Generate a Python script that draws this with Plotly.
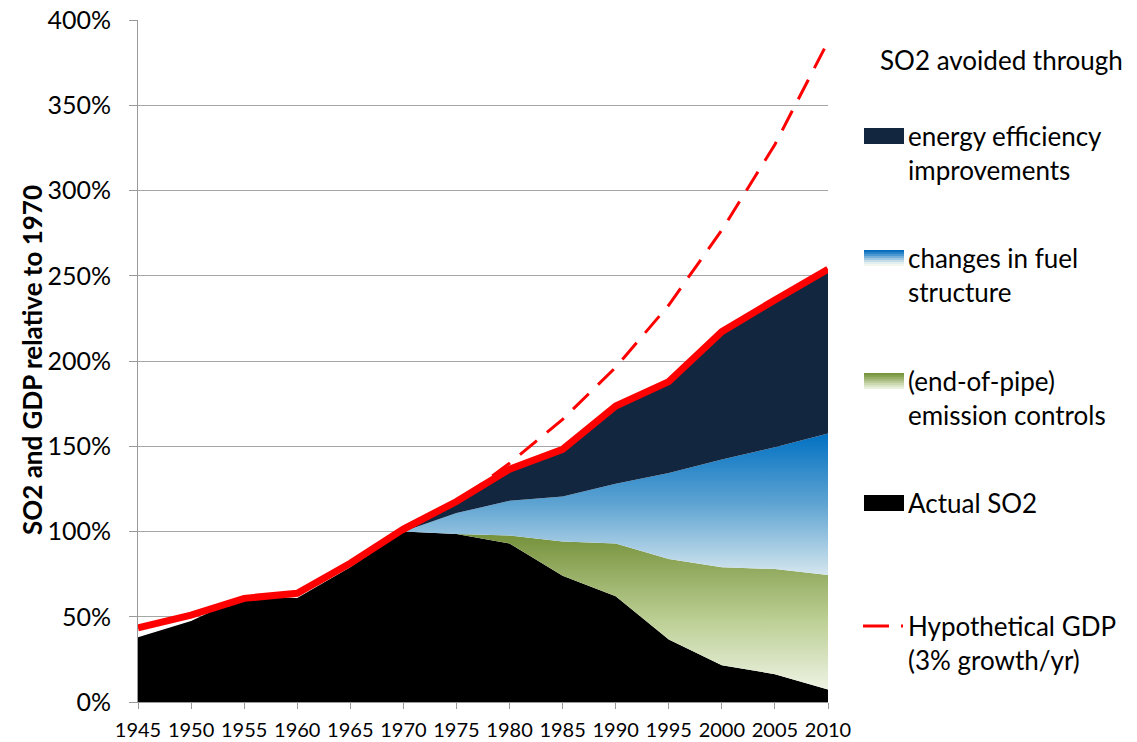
import plotly.graph_objects as go

# ---------------- data ----------------
years_all = [1945, 1950, 1955, 1960, 1965, 1970, 1975, 1980, 1985, 1990, 1995, 2000, 2005, 2010]
actual_so2 = [0.38, 0.475, 0.62, 0.61, 0.79, 1.00, 0.985, 0.93, 0.74, 0.62, 0.367, 0.216, 0.163, 0.073]
gdp_actual = [0.435, 0.51, 0.608, 0.638, 0.814, 1.014, 1.176, 1.365, 1.482, 1.736, 1.879, 2.172, 2.358, 2.538]

years_post = [1970, 1975, 1980, 1985, 1990, 1995, 2000, 2005, 2010]
endofpipe_top = [1.00, 0.985, 0.977, 0.941, 0.929, 0.838, 0.79, 0.78, 0.745]
fuel_top = [1.00, 1.108, 1.18, 1.206, 1.28, 1.343, 1.422, 1.494, 1.575]
efficiency_top = [1.00, 1.165, 1.355, 1.47, 1.725, 1.87, 2.162, 2.348, 2.528]
gdp_hypothetical = [1.00, 1.17, 1.40, 1.658, 1.963, 2.328, 2.768, 3.27, 3.873]

y_ticks = [0, 0.5, 1.0, 1.5, 2.0, 2.5, 3.0, 3.5, 4.0]
x_ticks = years_all

legend_title = "SO2 avoided through"
legend_items = [
    ("energy efficiency", "improvements"),
    ("changes in fuel", "structure"),
    ("(end-of-pipe)", "emission controls"),
    ("Actual SO2", None),
    ("Hypothetical GDP", "(3% growth/yr)"),
]

FONT = "Lato, 'Open Sans', sans-serif"
NAVY = "#13263f"
RED = "#ff0000"

W, H = 1137, 742
L, R, T, B = 138, 309, 20, 40
PW, PH = W - L - R, H - T - B


def px(x):
    return (x - L) / PW


def py(y):
    return (H - B - y) / PH


fig = go.Figure()

# actual SO2 (black)
fig.add_trace(go.Scatter(x=years_all, y=actual_so2, mode="lines", line=dict(width=0, color="black"),
                         fill="tozeroy", fillcolor="black", hoverinfo="skip", showlegend=False))
# invisible base for post-1970 stack
fig.add_trace(go.Scatter(x=years_post, y=actual_so2[5:], mode="lines", line=dict(width=0),
                         hoverinfo="skip", showlegend=False))
# end-of-pipe controls (green gradient)
fig.add_trace(go.Scatter(x=years_post, y=endofpipe_top, mode="lines", line=dict(width=0),
                         fill="tonexty",
                         fillgradient=dict(type="vertical", start=0.07, stop=0.98,
                                           colorscale=[[0, "#eef3e4"], [0.45, "#bccf94"], [1, "#76923c"]]),
                         hoverinfo="skip", showlegend=False))
# fuel structure (blue gradient)
fig.add_trace(go.Scatter(x=years_post, y=fuel_top, mode="lines", line=dict(width=0),
                         fill="tonexty",
                         fillgradient=dict(type="vertical", start=0.74, stop=1.58,
                                           colorscale=[[0, "#d6e7ef"], [0.5, "#5fa4d2"], [1, "#0070c2"]]),
                         hoverinfo="skip", showlegend=False))
# energy efficiency (navy)
fig.add_trace(go.Scatter(x=years_post, y=efficiency_top, mode="lines", line=dict(width=0),
                         fill="tonexty", fillcolor=NAVY, hoverinfo="skip", showlegend=False))
# hypothetical GDP (dashed)
fig.add_trace(go.Scatter(x=years_post, y=gdp_hypothetical, mode="lines",
                         line=dict(color=RED, width=3, dash="22px,13px"),
                         hoverinfo="skip", showlegend=False))
# actual GDP (thick red)
fig.add_trace(go.Scatter(x=years_all, y=gdp_actual, mode="lines",
                         line=dict(color=RED, width=7), hoverinfo="skip", showlegend=False))

fig.update_layout(
    width=W, height=H,
    margin=dict(l=L, r=R, t=T, b=B, pad=0, autoexpand=False),
    paper_bgcolor="white", plot_bgcolor="white",
    font=dict(family=FONT, color="black"),
    showlegend=False,
)
fig.update_xaxes(range=[1945, 2010], tickvals=x_ticks, ticktext=[str(v) for v in x_ticks],
                 showgrid=False, showline=True, linecolor="#9a9a9a", linewidth=1,
                 ticks="outside", ticklen=6, tickcolor="#9a9a9a", ticklabelstandoff=4,
                 tickfont=dict(size=20, family=FONT), zeroline=False, automargin=False)
fig.update_yaxes(range=[0, 4], tickvals=y_ticks, tickformat=".0%",
                 showgrid=True, gridcolor="#a6a6a6", gridwidth=1,
                 showline=True, linecolor="#9a9a9a", linewidth=1,
                 ticks="outside", ticklen=8, tickcolor="#9a9a9a", ticklabelstandoff=13,
                 tickfont=dict(size=25, family=FONT), zeroline=False, automargin=False)

annotations = []
# y axis title
annotations.append(dict(text="<b>SO2 and GDP relative to 1970</b>", x=px(32), y=py(360),
                        xref="paper", yref="paper", showarrow=False, textangle=-90,
                        xanchor="center", yanchor="middle", font=dict(size=26, family=FONT)))
# legend title
annotations.append(dict(text=legend_title, x=px(878), y=py(60), xref="paper", yref="paper",
                        showarrow=False, xanchor="left", yanchor="middle",
                        font=dict(size=26, family=FONT)))

row_centers = [136, 258, 381, 503, 626]
line_gap = 34
for (l1, l2), yc in zip(legend_items, row_centers):
    annotations.append(dict(text=l1, x=px(906), y=py(yc), xref="paper", yref="paper",
                            showarrow=False, xanchor="left", yanchor="middle",
                            font=dict(size=26, family=FONT)))
    if l2:
        annotations.append(dict(text=l2, x=px(906), y=py(yc + line_gap), xref="paper", yref="paper",
                                showarrow=False, xanchor="left", yanchor="middle",
                                font=dict(size=26, family=FONT)))
fig.update_layout(annotations=annotations)

shapes = []
bx0, bx1 = 864, 904
box_h = 16


def solid_box(yc, color):
    shapes.append(dict(type="rect", xref="paper", yref="paper",
                       x0=px(bx0), x1=px(bx1), y0=py(yc + box_h / 2), y1=py(yc - box_h / 2),
                       fillcolor=color, line=dict(width=0)))


def grad_box(yc, colors):
    n = len(colors)
    top = yc - box_h / 2
    for i, c in enumerate(colors):
        shapes.append(dict(type="rect", xref="paper", yref="paper",
                           x0=px(bx0), x1=px(bx1),
                           y0=py(top + (i + 1) * box_h / n), y1=py(top + i * box_h / n),
                           fillcolor=c, line=dict(width=0)))


solid_box(row_centers[0], NAVY)
grad_box(row_centers[1], ["#0a6dbd", "#2a82c8", "#4d99d2", "#76b0d9", "#a0c8e2", "#c6deea", "#e2eef0", "#f2f6ef"])
grad_box(row_centers[2], ["#789540", "#87a152", "#98ae68", "#a9bc7f", "#bacb97", "#cbd8b0", "#dbe5c8", "#e9f0dc"])
solid_box(row_centers[3], "black")
# legend line sample for hypothetical GDP
shapes.append(dict(type="line", xref="paper", yref="paper", x0=px(863), x1=px(889),
                   y0=py(row_centers[4]), y1=py(row_centers[4]), line=dict(color=RED, width=3)))
shapes.append(dict(type="line", xref="paper", yref="paper", x0=px(901), x1=px(903),
                   y0=py(row_centers[4]), y1=py(row_centers[4]), line=dict(color=RED, width=3)))
fig.update_layout(shapes=shapes)

fig.write_html("out.html")
